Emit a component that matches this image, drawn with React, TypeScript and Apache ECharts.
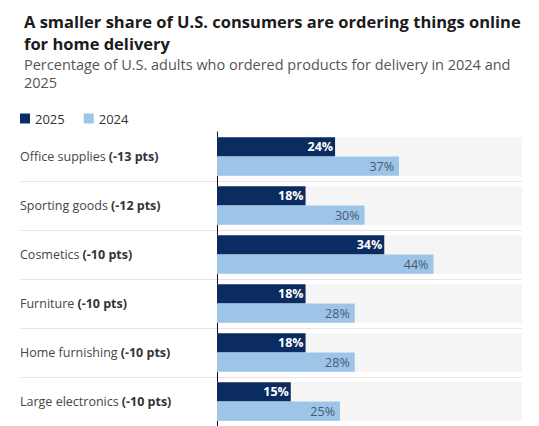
import { useEffect, useRef } from 'react';
import * as echarts from 'echarts';

const categories = [
  'Office supplies',
  'Sporting goods',
  'Cosmetics',
  'Furniture',
  'Home furnishing',
  'Large electronics',
];
const changeLabels = ['(-13 pts)', '(-12 pts)', '(-10 pts)', '(-10 pts)', '(-10 pts)', '(-10 pts)'];
const values2025 = [24, 18, 34, 18, 18, 15];
const values2024 = [37, 30, 44, 28, 28, 25];

const FONT = '"Open Sans", Lato, sans-serif';
const DARK = '#0b2c61';
const LIGHT = '#9cc5e8';

const App = () => {
  const chartRef = useRef<HTMLDivElement>(null);

  useEffect(() => {
    if (!chartRef.current) return;
    const chart = echarts.init(chartRef.current, undefined, { renderer: 'svg' });

    chart.setOption({
      animation: false,
      backgroundColor: '#ffffff',
      textStyle: { fontFamily: FONT },
      title: [
        {
          text: 'A smaller share of U.S. consumers are ordering things online\nfor home delivery',
          left: 19,
          top: 5,
          textStyle: {
            fontFamily: FONT,
            fontSize: 16.5,
            fontWeight: 'bold',
            color: '#1b1b1b',
            lineHeight: 22,
          },
        },
        {
          text: 'Percentage of U.S. adults who ordered products for delivery in 2024 and\n2025',
          left: 19,
          top: 50,
          textStyle: {
            fontFamily: FONT,
            fontSize: 14.5,
            fontWeight: 'normal',
            color: '#555555',
            lineHeight: 18.5,
          },
        },
      ],
      legend: {
        data: ['2025', '2024'],
        left: 15,
        top: 107,
        icon: 'rect',
        itemWidth: 10,
        itemHeight: 10,
        itemGap: 19,
        textStyle: { fontFamily: FONT, fontSize: 13, color: '#333333' },
      },
      grid: [
        { left: 217, right: 17, top: 132, height: 296 },
        { left: 20, right: 17, top: 132, height: 296 },
      ],
      xAxis: [
        { type: 'value', gridIndex: 0, min: 0, max: 62, show: false },
        { type: 'value', gridIndex: 1, min: 0, max: 1, show: false },
      ],
      yAxis: [
        {
          type: 'category',
          gridIndex: 0,
          data: categories,
          inverse: true,
          axisTick: { show: false },
          axisLine: { show: true, lineStyle: { color: '#111111', width: 1 } },
          splitLine: { show: false },
          axisLabel: {
            align: 'left',
            margin: 197,
            formatter: (value: string) => {
              const i = categories.indexOf(value);
              return `{n|${value}} {b|${changeLabels[i]}}`;
            },
            rich: {
              n: { fontFamily: FONT, fontSize: 12.5, color: '#454545' },
              b: { fontFamily: FONT, fontSize: 12.5, color: '#333333', fontWeight: 'bold' },
            },
          },
        },
        {
          type: 'category',
          gridIndex: 1,
          data: categories,
          inverse: true,
          axisTick: { show: false },
          axisLine: { show: false },
          axisLabel: { show: false },
          splitLine: {
            show: true,
            showMinLine: false,
            showMaxLine: false,
            lineStyle: { color: '#e6e6e6', width: 1 },
          },
        },
      ],
      series: [
        {
          name: '2025',
          type: 'bar',
          xAxisIndex: 0,
          yAxisIndex: 0,
          data: values2025,
          barGap: '0%',
          barCategoryGap: '21%',
          itemStyle: { color: DARK },
          showBackground: true,
          backgroundStyle: { color: '#f5f5f5' },
          label: {
            show: true,
            position: 'insideRight',
            distance: 2,
            formatter: '{c}%',
            color: '#ffffff',
            fontWeight: 'bold',
            fontSize: 12.5,
            fontFamily: FONT,
          },
        },
        {
          name: '2024',
          type: 'bar',
          xAxisIndex: 0,
          yAxisIndex: 0,
          data: values2024,
          barGap: '0%',
          barCategoryGap: '21%',
          itemStyle: { color: LIGHT },
          showBackground: true,
          backgroundStyle: { color: '#f5f5f5' },
          label: {
            show: true,
            position: 'insideRight',
            distance: 5,
            formatter: '{c}%',
            color: '#4a5a70',
            fontSize: 12.5,
            fontFamily: FONT,
          },
        },
      ],
    });

    return () => {
      chart.dispose();
    };
  }, []);

  return (
    <div
      ref={chartRef}
      style={{ position: 'absolute', left: 0, top: 0, width: 539, height: 426, background: '#fff' }}
    />
  );
};

export default App;
